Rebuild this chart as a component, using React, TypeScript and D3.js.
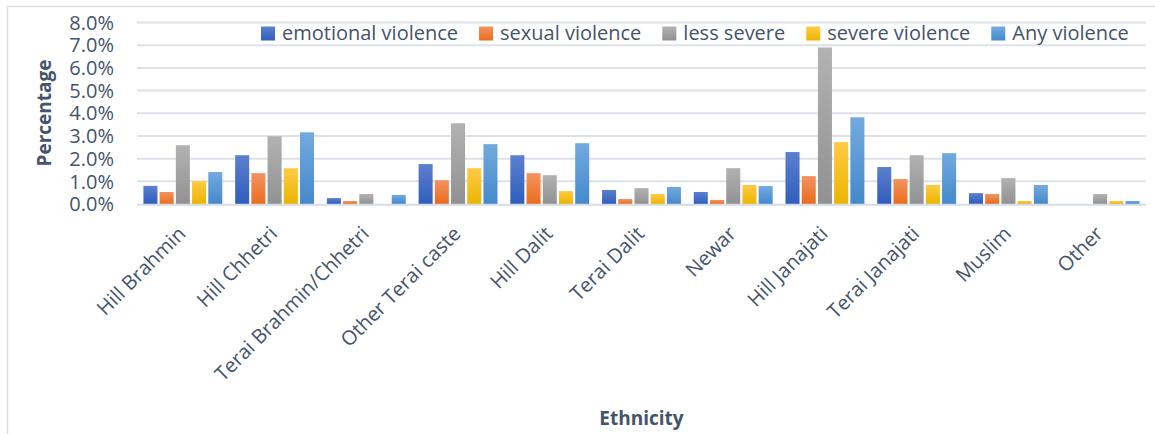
import React, { useEffect, useRef } from "react";
import * as d3 from "d3";

const categories = [
  "Hill Brahmin",
  "Hill Chhetri",
  "Terai Brahmin/Chhetri",
  "Other Terai caste",
  "Hill Dalit",
  "Terai Dalit",
  "Newar",
  "Hill Janajati",
  "Terai Janajati",
  "Muslim",
  "Other",
];

const seriesNames = [
  "emotional violence",
  "sexual violence",
  "less severe",
  "severe violence",
  "Any violence",
];

const emotionalViolence = [0.8, 2.15, 0.26, 1.76, 2.15, 0.62, 0.53, 2.29, 1.63, 0.48, 0];
const sexualViolence = [0.53, 1.36, 0.13, 1.05, 1.36, 0.22, 0.18, 1.23, 1.1, 0.44, 0];
const lessSevere = [2.59, 2.99, 0.44, 3.56, 1.27, 0.7, 1.58, 6.9, 2.15, 1.14, 0.44];
const severeViolence = [1.01, 1.58, 0, 1.58, 0.57, 0.44, 0.84, 2.73, 0.84, 0.13, 0.13];
const anyViolence = [1.41, 3.16, 0.4, 2.64, 2.68, 0.75, 0.79, 3.82, 2.24, 0.84, 0.13];

const yTicks = [0, 1, 2, 3, 4, 5, 6, 7, 8];

const seriesValues = [emotionalViolence, sexualViolence, lessSevere, severeViolence, anyViolence];

// gradient colours (top, bottom)
const seriesColors: [string, string][] = [
  ["#5d80cf", "#2f5dbd"],
  ["#f39361", "#ea6c1c"],
  ["#b2b2b2", "#919191"],
  ["#ffca45", "#ebb500"],
  ["#73aade", "#4489cb"],
];

const W = 1155;
const H = 434;
const TEXT = "#44546a";
const GRID = "#dde1e8";
const FONT = "'Open Sans', 'Noto Sans', sans-serif";

export default function App() {
  const ref = useRef<SVGSVGElement | null>(null);

  useEffect(() => {
    const svg = d3.select(ref.current);
    svg.selectAll("*").remove();

    const left = 137;
    const right = 1146;
    const y0 = 204;
    const yTop = 22.5;

    const x0 = d3
      .scaleBand<string>()
      .domain(categories)
      .range([left, right])
      .paddingInner(0.14)
      .paddingOuter(0.07);
    const x1 = d3
      .scaleBand<string>()
      .domain(seriesNames)
      .range([0, x0.bandwidth()])
      .paddingInner(0.135);
    const y = d3.scaleLinear().domain([0, 8]).range([y0, yTop]);

    const defs = svg.append("defs");
    seriesColors.forEach((c, i) => {
      const g = defs
        .append("linearGradient")
        .attr("id", `grad${i}`)
        .attr("x1", 0)
        .attr("y1", 0)
        .attr("x2", 0)
        .attr("y2", 1);
      g.append("stop").attr("offset", "0%").attr("stop-color", c[0]);
      g.append("stop").attr("offset", "100%").attr("stop-color", c[1]);
    });

    // outer border
    svg
      .append("rect")
      .attr("x", 7.5)
      .attr("y", 6.5)
      .attr("width", 1170)
      .attr("height", 450)
      .attr("fill", "#fff")
      .attr("stroke", "#d9dde3")
      .attr("stroke-width", 1.5);

    // gridlines
    svg
      .append("g")
      .selectAll("line")
      .data(yTicks.filter((t) => t > 0))
      .join("line")
      .attr("x1", left)
      .attr("x2", right)
      .attr("y1", (d) => y(d))
      .attr("y2", (d) => y(d))
      .attr("stroke", GRID)
      .attr("stroke-width", 2);

    // y tick labels
    svg
      .append("g")
      .selectAll("text")
      .data(yTicks)
      .join("text")
      .attr("x", 114)
      .attr("y", (d) => y(d))
      .attr("dy", "0.36em")
      .attr("text-anchor", "end")
      .attr("font-family", FONT)
      .attr("font-size", 20)
      .attr("fill", TEXT)
      .text((d) => `${d.toFixed(1)}%`);

    // bars
    const groups = svg
      .append("g")
      .selectAll("g")
      .data(categories)
      .join("g")
      .attr("transform", (c) => `translate(${x0(c)},0)`);
    groups
      .selectAll("rect")
      .data((c, ci) => seriesNames.map((s, si) => ({ s, si, v: seriesValues[si][ci] })))
      .join("rect")
      .attr("x", (d) => x1(d.s)!)
      .attr("width", x1.bandwidth())
      .attr("y", (d) => y(d.v))
      .attr("height", (d) => y0 - y(d.v))
      .attr("fill", (d) => `url(#grad${d.si})`);

    // x axis line
    svg
      .append("line")
      .attr("x1", left)
      .attr("x2", right)
      .attr("y1", y0 + 0.8)
      .attr("y2", y0 + 0.8)
      .attr("stroke", "#d6dce5")
      .attr("stroke-width", 2);

    // x labels
    svg
      .append("g")
      .selectAll("text")
      .data(categories)
      .join("text")
      .attr(
        "transform",
        (c) => `translate(${x0(c)! + x0.bandwidth() / 2 + 4},235) rotate(-45)`
      )
      .attr("text-anchor", "end")
      .attr("font-family", FONT)
      .attr("font-size", 20)
      .attr("fill", TEXT)
      .text((c) => c);

    // axis titles
    svg
      .append("text")
      .attr("transform", "translate(51,113) rotate(-90)")
      .attr("text-anchor", "middle")
      .attr("font-family", FONT)
      .attr("font-size", 19)
      .attr("font-weight", "bold")
      .attr("fill", TEXT)
      .text("Percentage");

    svg
      .append("text")
      .attr("x", (left + right) / 2)
      .attr("y", 425)
      .attr("text-anchor", "middle")
      .attr("font-family", FONT)
      .attr("font-size", 19)
      .attr("font-weight", "bold")
      .attr("fill", TEXT)
      .text("Ethnicity");

    // legend
    const legend = svg.append("g");
    let lx = 261;
    seriesNames.forEach((name, i) => {
      legend
        .append("rect")
        .attr("x", lx)
        .attr("y", 26.5)
        .attr("width", 14)
        .attr("height", 14)
        .attr("fill", `url(#grad${i})`);
      const t = legend
        .append("text")
        .attr("x", lx + 21)
        .attr("y", 40)
        .attr("font-family", FONT)
        .attr("font-size", 20)
        .attr("fill", TEXT)
        .text(name);
      const w = (t.node() as SVGTextElement).getComputedTextLength();
      lx += 21 + w + 21;
    });
  }, []);

  return (
    <svg
      ref={ref}
      width={W}
      height={H}
      style={{ position: "absolute", left: 0, top: 0, display: "block", background: "#fff" }}
    />
  );
}
